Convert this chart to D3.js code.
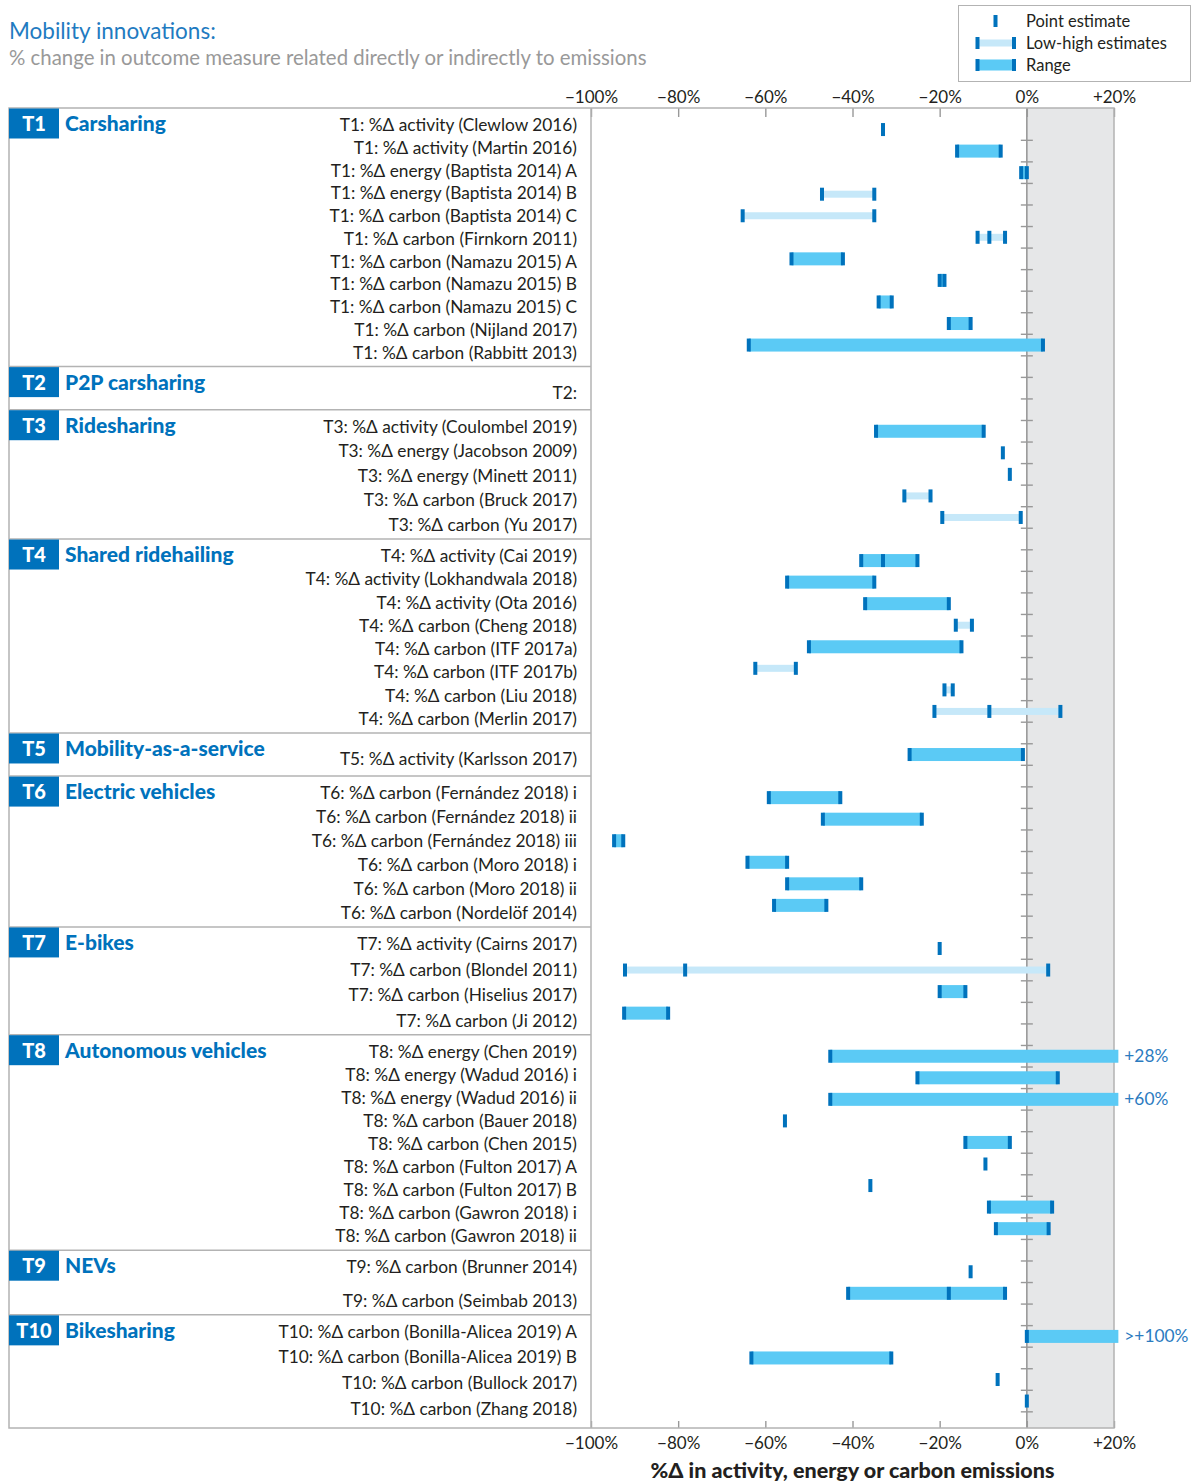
<!DOCTYPE html>
<html>
<head>
<meta charset="utf-8">
<script src="https://cdn.jsdelivr.net/npm/d3@7"></script>
<style>
  body { margin: 0; background: #fff; }
  svg text { font-family: Lato, "Open Sans", sans-serif; }
</style>
</head>
<body>
<svg id="main_canvas"></svg>
<script>
const width = 1203;
const height = 1482;

// categories (innovation groups)
const groupIds = ["T1", "T2", "T3", "T4", "T5", "T6", "T7", "T8", "T9", "T10"];
const groupNames = [
  "Carsharing", "P2P carsharing", "Ridesharing", "Shared ridehailing",
  "Mobility-as-a-service", "Electric vehicles", "E-bikes",
  "Autonomous vehicles", "NEVs", "Bikesharing",
];

// studies: [group, label, kind, low, high, point]
const studies = [
  ["T1", "%Δ activity (Clewlow 2016)", "point", null, null, -33],
  ["T1", "%Δ activity (Martin 2016)", "range", -16, -6, null],
  ["T1", "%Δ energy (Baptista 2014) A", "range", -1.3, 0, null],
  ["T1", "%Δ energy (Baptista 2014) B", "lowhigh", -47, -35, null],
  ["T1", "%Δ carbon (Baptista 2014) C", "lowhigh", -65.2, -35, null],
  ["T1", "%Δ carbon (Firnkorn 2011)", "lowhigh", -11.3, -5, -8.6],
  ["T1", "%Δ carbon (Namazu 2015) A", "range", -54, -42.2, null],
  ["T1", "%Δ carbon (Namazu 2015) B", "range", -20, -18.9, null],
  ["T1", "%Δ carbon (Namazu 2015) C", "range", -34, -31, null],
  ["T1", "%Δ carbon (Nijland 2017)", "range", -17.9, -12.9, null],
  ["T1", "%Δ carbon (Rabbitt 2013)", "range", -63.8, 3.7, null],
  ["T2", "", "none", null, null, null],
  ["T3", "%Δ activity (Coulombel 2019)", "range", -34.6, -9.9, null],
  ["T3", "%Δ energy (Jacobson 2009)", "point", null, null, -5.5],
  ["T3", "%Δ energy (Minett 2011)", "point", null, null, -3.9],
  ["T3", "%Δ carbon (Bruck 2017)", "lowhigh", -28.1, -22.1, null],
  ["T3", "%Δ carbon (Yu 2017)", "lowhigh", -19.4, -1.4, null],
  ["T4", "%Δ activity (Cai 2019)", "range", -38, -25.1, -33],
  ["T4", "%Δ activity (Lokhandwala 2018)", "range", -55, -35, null],
  ["T4", "%Δ activity (Ota 2016)", "range", -37.1, -17.9, null],
  ["T4", "%Δ carbon (Cheng 2018)", "lowhigh", -16.3, -12.6, null],
  ["T4", "%Δ carbon (ITF 2017a)", "range", -50, -15, null],
  ["T4", "%Δ carbon (ITF 2017b)", "lowhigh", -62.3, -53, null],
  ["T4", "%Δ carbon (Liu 2018)", "lowhigh", -18.9, -17, null],
  ["T4", "%Δ carbon (Merlin 2017)", "lowhigh", -21.2, 7.7, -8.6],
  ["T5", "%Δ activity (Karlsson 2017)", "range", -26.9, -0.9, null],
  ["T6", "%Δ carbon (Fernández 2018) i", "range", -59.2, -42.8, null],
  ["T6", "%Δ carbon (Fernández 2018) ii", "range", -46.8, -24.1, null],
  ["T6", "%Δ carbon (Fernández 2018) iii", "range", -94.7, -92.6, null],
  ["T6", "%Δ carbon (Moro 2018) i", "range", -64.1, -55, null],
  ["T6", "%Δ carbon (Moro 2018) ii", "range", -55, -38, null],
  ["T6", "%Δ carbon (Nordelöf 2014)", "range", -58, -46, null],
  ["T7", "%Δ activity (Cairns 2017)", "point", null, null, -20],
  ["T7", "%Δ carbon (Blondel 2011)", "lowhigh", -92.2, 4.9, -78.4],
  ["T7", "%Δ carbon (Hiselius 2017)", "range", -20, -14.1, null],
  ["T7", "%Δ carbon (Ji 2012)", "range", -92.4, -82.3, null],
  ["T8", "%Δ energy (Chen 2019)", "range", -45.1, 28, null],
  ["T8", "%Δ energy (Wadud 2016) i", "range", -25.1, 7.1, null],
  ["T8", "%Δ energy (Wadud 2016) ii", "range", -45.1, 60, null],
  ["T8", "%Δ carbon (Bauer 2018)", "point", null, null, -55.5],
  ["T8", "%Δ carbon (Chen 2015)", "range", -14.1, -3.9, null],
  ["T8", "%Δ carbon (Fulton 2017) A", "point", null, null, -9.5],
  ["T8", "%Δ carbon (Fulton 2017) B", "point", null, null, -35.9],
  ["T8", "%Δ carbon (Gawron 2018) i", "range", -8.7, 5.8, null],
  ["T8", "%Δ carbon (Gawron 2018) ii", "range", -7.1, 5, null],
  ["T9", "%Δ carbon (Brunner 2014)", "point", null, null, -12.9],
  ["T9", "%Δ carbon (Seimbab 2013)", "range", -41, -5, -17.9],
  ["T10", "%Δ carbon (Bonilla-Alicea 2019) A", "range", 0, 100, null],
  ["T10", "%Δ carbon (Bonilla-Alicea 2019) B", "range", -63.2, -31.1, null],
  ["T10", "%Δ carbon (Bullock 2017)", "point", null, null, -6.7],
  ["T10", "%Δ carbon (Zhang 2018)", "point", null, null, 0],
];

// labels for bars cut at the right edge
const overflowLabels = { 28: "+28%", 60: "+60%", 100: ">+100%" };

const xTicks = [-100, -80, -60, -40, -20, 0, 20];

const colBlue = "#0072bc";
const colRange = "#5bcaf5";
const colLowHigh = "#c6e8f9";
const colFrame = "#b3b3b3";
const colText = "#231f20";

const svg = d3.select("#main_canvas").attr("width", width).attr("height", height);

// layout: each group takes one extra slot above its rows
let slot = -1;
const sections = groupIds.map((g, i) => {
  const start = slot;
  const rows = studies
    .filter((d) => d[0] === g)
    .map((d) => ({
      group: d[0], label: d[1], kind: d[2], low: d[3], high: d[4], point: d[5],
      slot: ++slot,
    }));
  slot += 1;
  return { id: g, name: groupNames[i], start, end: slot, rows };
});
const rows = sections.flatMap((s) => s.rows);

const x = d3.scaleLinear().domain([-100, 20]).range([591, 1114]);
const y = d3.scaleLinear().domain([-1, 60.25]).range([108, 1428]);
const xMax = 21;
const frameLeft = 9;
const labelRight = 577;
const plotTop = y(-1);
const plotBottom = y(60.25);

const fmt = (v) => (v > 0 ? "+" + v + "%" : v < 0 ? "\u2212" + Math.abs(v) + "%" : "0%");

// Title
svg.append("text").attr("x", 9).attr("y", 39)
  .attr("font-size", 22.5).attr("fill", "#1f7bc1").text("Mobility innovations:");
svg.append("text").attr("x", 9).attr("y", 65)
  .attr("font-size", 20.4).attr("fill", "#999").text("% change in outcome measure related directly or indirectly to emissions");

// positive zone
svg.append("rect")
  .attr("x", x(0)).attr("y", plotTop)
  .attr("width", x(20) - x(0)).attr("height", plotBottom - plotTop)
  .attr("fill", "#e6e7e8");

// zero line with slot ticks
svg.append("line")
  .attr("x1", x(0)).attr("x2", x(0)).attr("y1", plotTop).attr("y2", plotBottom)
  .attr("stroke", "#999").attr("stroke-width", 1.6);
svg.append("g").selectAll("line")
  .data(d3.range(0.5, 60, 1))
  .join("line")
  .attr("x1", x(0) - 6).attr("x2", x(0) + 6)
  .attr("y1", (d) => y(d)).attr("y2", (d) => y(d))
  .attr("stroke", "#999").attr("stroke-width", 1.4);

// axes
const axisTop = svg.append("g").attr("transform", `translate(0,${plotTop})`)
  .call(d3.axisTop(x).tickValues(xTicks).tickFormat(fmt).tickSizeInner(-9).tickSizeOuter(0).tickPadding(5));
const axisBottom = svg.append("g").attr("transform", `translate(0,${plotBottom})`)
  .call(d3.axisBottom(x).tickValues(xTicks).tickFormat(fmt).tickSizeInner(-7).tickSizeOuter(0).tickPadding(9));
[axisTop, axisBottom].forEach((a) => {
  a.select(".domain").remove();
  a.selectAll(".tick line").attr("stroke", "#999").attr("stroke-width", 1.4);
  a.selectAll(".tick text").attr("font-size", 17).attr("fill", colText)
    .attr("font-family", "Lato, sans-serif");
});

svg.append("text")
  .attr("x", (x(-100) + x(20)) / 2).attr("y", 1478)
  .attr("text-anchor", "middle").attr("font-size", 21.5).attr("font-weight", 900)
  .attr("fill", colText).text("%Δ in activity, energy or carbon emissions");

// frame
const frame = svg.append("g").attr("stroke", colFrame).attr("stroke-width", 1.5).attr("fill", "none");
frame.append("rect").attr("x", frameLeft).attr("y", plotTop)
  .attr("width", x(20) - frameLeft).attr("height", plotBottom - plotTop);
frame.append("line").attr("x1", x(-100)).attr("x2", x(-100)).attr("y1", plotTop).attr("y2", plotBottom);
frame.selectAll(".sep")
  .data(sections.slice(0, -1))
  .join("line")
  .attr("x1", frameLeft).attr("x2", x(-100))
  .attr("y1", (d) => y(d.end)).attr("y2", (d) => y(d.end));

// section headers
const head = svg.append("g").selectAll("g").data(sections).join("g")
  .attr("transform", (d) => `translate(0,${y(d.start)})`);
head.append("rect")
  .attr("x", frameLeft).attr("y", 0.5).attr("width", 50).attr("height", 30)
  .attr("fill", colBlue);
head.append("text")
  .attr("x", frameLeft + 25).attr("y", 23).attr("text-anchor", "middle")
  .attr("font-size", 20).attr("font-weight", 900).attr("fill", "#fff")
  .text((d) => d.id);
head.append("text")
  .attr("x", 65).attr("y", 23)
  .attr("font-size", 21).attr("font-weight", 900).attr("fill", colBlue)
  .text((d) => d.name);

// row labels, spread inside each section
const labelG = svg.append("g");
sections.forEach((s) => {
  const a = y(s.start) + 17;
  const b = y(s.end) - 14;
  const ly = d3.scalePoint().domain(s.rows.map((r) => r.slot))
    .range(s.rows.length > 1 ? [a, b] : [(a + b) / 2 + 3, (a + b) / 2 + 3]);
  labelG.selectAll(null).data(s.rows).join("text")
    .attr("x", labelRight).attr("y", (d) => ly(d.slot))
    .attr("dy", "0.35em").attr("text-anchor", "end")
    .attr("font-size", 17.3).attr("fill", colText)
    .text((d) => d.group + ":" + (d.label ? " " + d.label : ""));
});

// bars
const marks = svg.append("g");
const barRows = rows.filter((d) => d.kind === "range" || d.kind === "lowhigh");
marks.selectAll(".bar").data(barRows).join("rect")
  .attr("x", (d) => x(d.low))
  .attr("y", (d) => y(d.slot) - (d.kind === "range" ? 6.5 : 3.5))
  .attr("width", (d) => x(Math.min(d.high, xMax)) - x(d.low))
  .attr("height", (d) => (d.kind === "range" ? 13 : 7))
  .attr("fill", (d) => (d.kind === "range" ? colRange : colLowHigh));

const caps = rows.flatMap((d) => {
  const v = [];
  if (d.low != null) v.push(d.low);
  if (d.high != null && d.high <= 20) v.push(d.high);
  if (d.point != null) v.push(d.point);
  return v.map((val) => ({ slot: d.slot, val }));
});
marks.selectAll(".cap").data(caps).join("rect")
  .attr("x", (d) => x(d.val) - 2).attr("y", (d) => y(d.slot) - 6.5)
  .attr("width", 4).attr("height", 13).attr("fill", colBlue);

marks.selectAll(".over").data(barRows.filter((d) => d.high > 20)).join("text")
  .attr("x", x(xMax) + 6).attr("y", (d) => y(d.slot)).attr("dy", "0.35em")
  .attr("font-size", 17.3).attr("fill", "#2b7bbf")
  .text((d) => overflowLabels[d.high]);

// legend
const legend = svg.append("g");
legend.append("rect").attr("x", 958.5).attr("y", 5.5).attr("width", 232).attr("height", 76)
  .attr("fill", "#fff").attr("stroke", colFrame).attr("stroke-width", 1);
const legendItems = [
  { label: "Point estimate", kind: "point", ly: 21 },
  { label: "Low-high estimates", kind: "lowhigh", ly: 43 },
  { label: "Range", kind: "range", ly: 65 },
];
legendItems.forEach((d) => {
  if (d.kind !== "point") {
    const h = d.kind === "range" ? 11 : 7;
    legend.append("rect").attr("x", 977).attr("y", d.ly - h / 2)
      .attr("width", 37).attr("height", h)
      .attr("fill", d.kind === "range" ? colRange : colLowHigh);
    legend.append("rect").attr("x", 975.5).attr("y", d.ly - 6).attr("width", 4).attr("height", 12).attr("fill", colBlue);
    legend.append("rect").attr("x", 1012).attr("y", d.ly - 6).attr("width", 4).attr("height", 12).attr("fill", colBlue);
  } else {
    legend.append("rect").attr("x", 993.5).attr("y", d.ly - 6).attr("width", 4).attr("height", 12).attr("fill", colBlue);
  }
  legend.append("text").attr("x", 1026).attr("y", d.ly).attr("dy", "0.35em")
    .attr("font-size", 16.5).attr("fill", colText).text(d.label);
});
</script>
</body>
</html>
